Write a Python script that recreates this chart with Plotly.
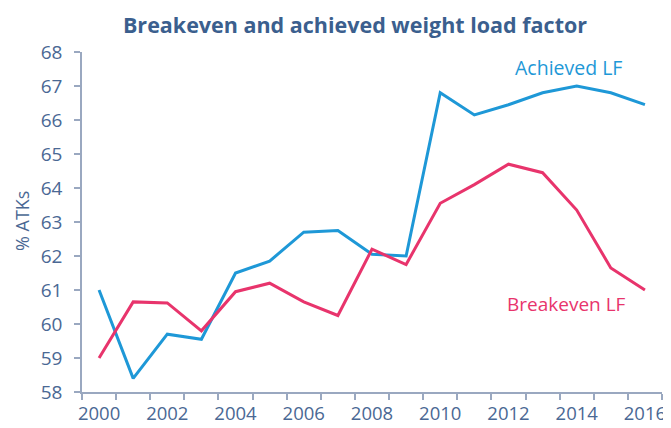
import plotly.graph_objects as go

# Weight load factor, % of ATKs
years = list(range(2000, 2017))
achieved_lf = [61.0, 58.4, 59.7, 59.55, 61.5, 61.85, 62.7, 62.75, 62.05, 62.0,
               66.8, 66.15, 66.45, 66.8, 67.0, 66.8, 66.45]
breakeven_lf = [59.0, 60.65, 60.62, 59.8, 60.95, 61.2, 60.65, 60.25, 62.2, 61.75,
                63.55, 64.1, 64.7, 64.45, 63.35, 61.65, 61.0]
label_years = list(range(2000, 2017, 2))

blue = "#1E98D7"
pink = "#E8346C"
text_col = "#4A6894"
axis_col = "#9AA8C0"

fig = go.Figure()
fig.add_trace(go.Scatter(x=years, y=achieved_lf, mode="lines", name="Achieved LF",
                         line=dict(color=blue, width=3)))
fig.add_trace(go.Scatter(x=years, y=breakeven_lf, mode="lines", name="Breakeven LF",
                         line=dict(color=pink, width=3)))

fig.update_xaxes(range=[years[0] - 0.5, years[-1] + 0.5], automargin=False,
                 tickvals=label_years, ticktext=[str(y) for y in label_years],
                 ticks="", showgrid=False, zeroline=False,
                 showline=True, linecolor=axis_col, linewidth=1.5,
                 minor=dict(tickvals=[y - 0.5 for y in years] + [years[-1] + 0.5],
                            ticks="outside", ticklen=6, tickcolor=axis_col, tickwidth=1.5,
                            showgrid=False),
                 tickfont=dict(size=18.5, color=text_col), ticklabelstandoff=4)
fig.update_yaxes(range=[58, 68], dtick=1, ticks="outside", ticklen=6, automargin=False,
                 tickcolor=axis_col, tickwidth=1.5,
                 showgrid=False, zeroline=False,
                 showline=True, linecolor=axis_col, linewidth=1.5,
                 tickfont=dict(size=19, color=text_col), ticklabelstandoff=8)

fig.add_annotation(text="Achieved LF", x=2013.75, y=67.55, xref="x", yref="y",
                   showarrow=False, font=dict(size=19.5, color=blue))
fig.add_annotation(text="Breakeven LF", x=2013.7, y=60.6, xref="x", yref="y",
                   showarrow=False, font=dict(size=19, color=pink))
fig.add_annotation(text="% ATKs", x=-0.1034, y=0.503, xref="paper", yref="paper",
                   xanchor="center", yanchor="middle",
                   textangle=-90, showarrow=False, font=dict(size=18, color=text_col))

# the page body adds 8px around the figure, so the figure is 8px smaller
fig.update_layout(
    width=663, height=420,
    margin=dict(l=74, r=9, t=44, b=36),
    paper_bgcolor="white", plot_bgcolor="white",
    font=dict(family="Open Sans"),
    showlegend=False,
    title=dict(text="<b>Breakeven and achieved weight load factor</b>",
               x=347 / 663, xanchor="center", xref="container",
               y=1 - 17 / 420, yanchor="middle",
               font=dict(size=21.5, color="#3B5F8E")),
)

fig.write_html("out.html")
